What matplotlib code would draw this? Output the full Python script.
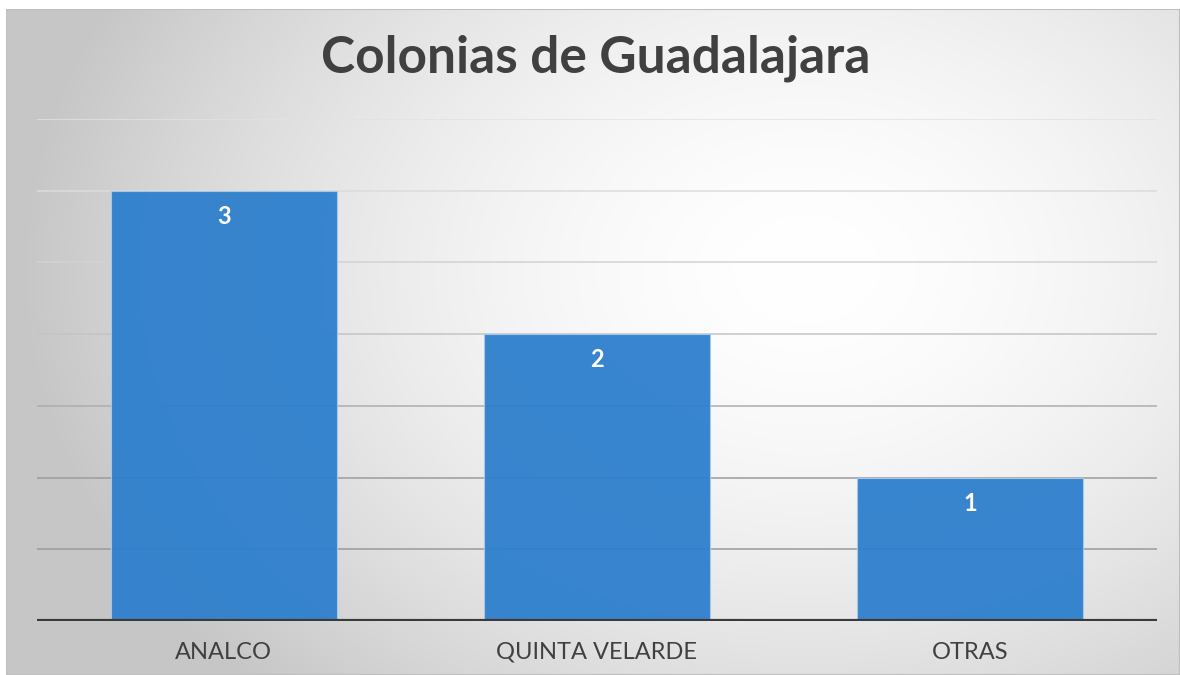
import numpy as np
import matplotlib
matplotlib.use("Agg")
import matplotlib.pyplot as plt
from matplotlib.patches import Rectangle

categories = ["ANALCO", "QUINTA VELARDE", "OTRAS"]
values = [3, 2, 1]
title = "Colonias de Guadalajara"

W, H, DPI = 1180, 675, 100
fig = plt.figure(figsize=(W / DPI, H / DPI), dpi=DPI)
fig.patch.set_facecolor("white")

# background frame with radial gradient
bg = fig.add_axes([6 / W, 0, (W - 6) / W, (H - 9) / H])
bg.set_axis_off()
yy, xx = np.mgrid[0:H - 9, 0:W - 6]
cx, cy = 800, 260
r = np.sqrt(((xx - cx) / 780.0) ** 2 + ((yy - cy) / 580.0) ** 2)
r = np.clip(r, 0, 1)
light, dark = 1.0, 0.78
v = light - (light - dark) * r ** 1.7
img = np.dstack([v, v, v])
bg.imshow(img, aspect="auto", extent=[0, 1, 0, 1], origin="upper")
bg.set_xlim(0, 1)
bg.set_ylim(0, 1)
bg.add_patch(Rectangle((0, 0), 1, 1, transform=bg.transAxes, fill=False,
                       edgecolor="#bfbfbf", lw=1.5))

font = ["Lato", "DejaVu Sans"]

# plot area: x 37..1157, y 119..621 (top = 3.5)
ax = fig.add_axes([37 / W, (H - 621) / H, (1157 - 37) / W, (621 - 119) / H])
ax.patch.set_alpha(0)
x = np.arange(len(categories))
ax.set_xlim(-0.5, len(categories) - 0.5)
ax.set_ylim(0, 3.5)

grid_levels = np.arange(0.5, 3.51, 0.5)
grid_colors = ["#9a9a9a", "#9c9c9c", "#adadad", "#c4c4c4", "#d2d2d2", "#dcdcdc", "#e2e2e2"]
for lvl, c in zip(grid_levels, grid_colors):
    ax.axhline(lvl, color=c, lw=1.1, zorder=1)

bars = ax.bar(x, values, width=0.605, color="#2E7FCD", alpha=0.95,
              edgecolor="#a9c9ea", linewidth=0.8, zorder=2)

for xi, val in zip(x, values):
    ax.annotate(str(val), (xi, val), xytext=(0, -18.5), textcoords="offset points",
                ha="center", va="center", color="white", fontsize=17,
                fontweight="bold", family=font, zorder=3)

ax.axhline(0, color="#3a3a3a", lw=3.0, zorder=4, solid_capstyle="butt")

for s in ax.spines.values():
    s.set_visible(False)
ax.set_yticks([])
ax.set_xticks(x)
ax.set_xticklabels(categories, fontsize=17, color="#404040", family=font)
ax.tick_params(axis="x", length=0, pad=15)

fig.text(596 / W, 1 - 58 / H, title, ha="center", va="center", fontsize=37,
         fontweight="bold", color="#404040", family=font)

fig.savefig("out.png", dpi=DPI)
